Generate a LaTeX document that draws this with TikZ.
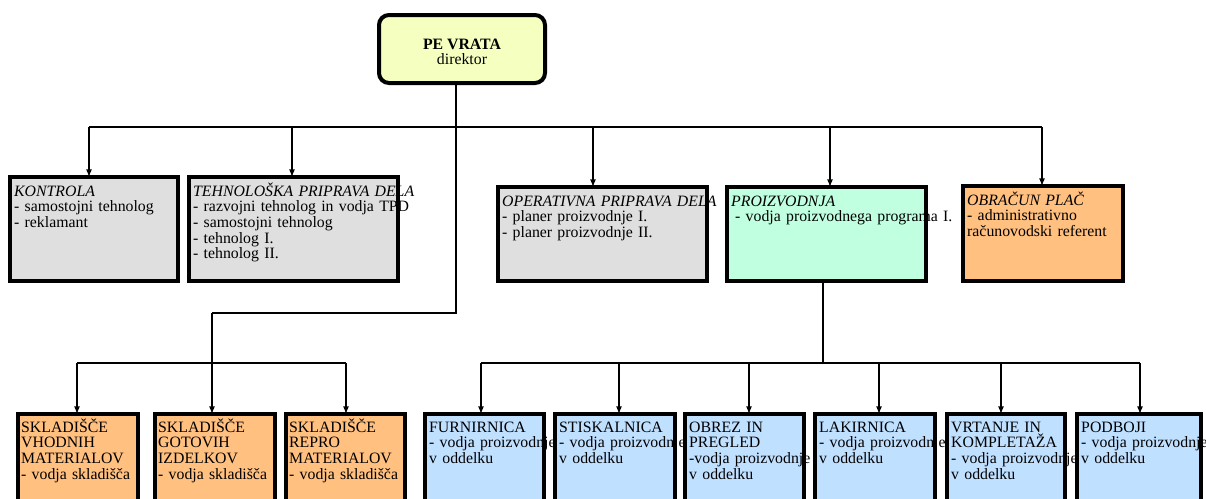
\documentclass[tikz,border=0pt]{standalone}
\usepackage{fontspec}
\setmainfont{Liberation Serif}
\definecolor{headyellow}{RGB}{245,255,192}
\definecolor{staffgray}{RGB}{223,223,223}
\definecolor{prodgreen}{RGB}{192,255,224}
\definecolor{unitorange}{RGB}{255,192,128}
\definecolor{unitblue}{RGB}{192,224,255}
\begin{document}
\begin{tikzpicture}[x=1pt, y=-1pt,
	font=\fontsize{15.8}{15.7}\selectfont,
	unit/.style={rectangle, anchor=north west, inner sep=0pt, outer sep=0pt, minimum height=104},
	staff/.style={unit, fill=staffgray},
	store/.style={unit, fill=unitorange, minimum height=120},
	shop/.style={unit, fill=unitblue, minimum height=120},
	border/.style={draw=black, line width=4pt},
	desc/.style={anchor=base west, text width=300, align=left, inner sep=0pt},
	link/.style={line width=1.6pt},
	arrow/.style={link, -latex}]
		\useasboundingbox (0,0) rectangle (1206,498);
		\clip (0,0) rectangle (1206,498);
		
		%director
		\node (PE Vrata) at (462,49) [rectangle, rounded corners=10, draw, line width=4pt, 
		fill=headyellow, minimum width=166, minimum height=68]{};
		\node (PE Vrata text) at ([yshift=-3pt]PE Vrata.center) [align=center]{\textbf{PE VRATA}\\direktor};
		
		%first level
		\node (Kontrola) at (10,177) [staff, minimum width=168]{};
		\node (Tehnoloska) at (189,177) [staff, minimum width=209]{};
		\node (Operativna) at (498,187) [staff, minimum width=209, minimum height=94]{};
		\node (Proizvodnja) at (727,187) [unit, fill=prodgreen, minimum width=199, minimum height=94]{};
		\node (Obracun) at (963,186) [unit, fill=unitorange, minimum width=160, minimum height=95]{};
		
		\node (Kontrola text) at ([shift={(4,19)}]Kontrola.north west) [desc]{\textit{KONTROLA}\\- samostojni tehnolog\\- reklamant};
		\node (Tehnoloska text) at ([shift={(4,19)}]Tehnoloska.north west) [desc]{\textit{TEHNOLOŠKA PRIPRAVA DELA}\\- razvojni tehnolog in vodja TPD\\- samostojni tehnolog\\- tehnolog I.\\- tehnolog II.};
		\node (Operativna text) at ([shift={(4,19)}]Operativna.north west) [desc]{\textit{OPERATIVNA PRIPRAVA DELA}\\- planer proizvodnje I.\\- planer proizvodnje II.};
		\node (Proizvodnja text) at ([shift={(4,19)}]Proizvodnja.north west) [desc]{\textit{PROIZVODNJA}\\\hspace*{4pt}- vodja proizvodnega programa I.};
		\node (Obracun text) at ([shift={(4,19)}]Obracun.north west) [desc]{\textit{OBRAČUN PLAČ}\\- administrativno\\računovodski referent};
		
		%second level
		\node (Vhodnih) at (18,414) [store, minimum width=120]{};
		\node (Gotovih) at (155,414) [store, minimum width=120]{};
		\node (Repro) at (286,414) [store, minimum width=119]{};
		\node (Furnirnica) at (425,414) [shop, minimum width=119]{};
		\node (Stiskalnica) at (555,414) [shop, minimum width=120]{};
		\node (Obrez) at (685,414) [shop, minimum width=119]{};
		\node (Lakirnica) at (815,414) [shop, minimum width=120]{};
		\node (Vrtanje) at (947,414) [shop, minimum width=118]{};
		\node (Podboji) at (1077,414) [shop, minimum width=124]{};
		
		\node (Vhodnih text) at ([shift={(3,18)}]Vhodnih.north west) [desc]{SKLADIŠČE\\VHODNIH\\MATERIALOV\\- vodja skladišča};
		\node (Gotovih text) at ([shift={(3,18)}]Gotovih.north west) [desc]{SKLADIŠČE\\GOTOVIH\\IZDELKOV\\- vodja skladišča};
		\node (Repro text) at ([shift={(3,18)}]Repro.north west) [desc]{SKLADIŠČE\\REPRO\\MATERIALOV\\- vodja skladišča};
		\node (Furnirnica text) at ([shift={(4,18)}]Furnirnica.north west) [desc]{FURNIRNICA\\- vodja proizvodnje\\v oddelku};
		\node (Stiskalnica text) at ([shift={(4,18)}]Stiskalnica.north west) [desc]{STISKALNICA\\- vodja proizvodnje\\v oddelku};
		\node (Obrez text) at ([shift={(4,18)}]Obrez.north west) [desc]{OBREZ IN\\PREGLED\\-vodja proizvodnje\\v oddelku};
		\node (Lakirnica text) at ([shift={(4,18)}]Lakirnica.north west) [desc]{LAKIRNICA\\- vodja proizvodnje\\v oddelku};
		\node (Vrtanje text) at ([shift={(4,18)}]Vrtanje.north west) [desc]{VRTANJE IN\\KOMPLETAŽA\\- vodja proizvodnje\\v oddelku};
		\node (Podboji text) at ([shift={(4,18)}]Podboji.north west) [desc]{PODBOJI\\- vodja proizvodnje\\v oddelku};
		
		%bus points
		\coordinate (Top Bus West) at (89,127);
		\coordinate (Top Bus 2) at (292,127);
		\coordinate (Top Bus 3) at (593,127);
		\coordinate (Top Bus 4) at (830,127);
		\coordinate (Top Bus East) at (1042,127);
		\coordinate (Main Stem) at (456,313);
		\coordinate (Store Turn) at (212,313);
		\coordinate (Store Bus West) at (77,363);
		\coordinate (Store Bus East) at (346,363);
		\coordinate (Prod Stem) at (823,363);
		\coordinate (Prod Bus West) at (481,363);
		\coordinate (Prod Bus 2) at (619,363);
		\coordinate (Prod Bus 3) at (749,363);
		\coordinate (Prod Bus 4) at (879,363);
		\coordinate (Prod Bus 5) at (1001,363);
		\coordinate (Prod Bus East) at (1140,363);
		
		%links from director
		\draw[link] (Main Stem |- PE Vrata.south) -- (Main Stem) -- (Store Turn);
		\draw[link] (Top Bus West) -- (Top Bus East);
		\draw[arrow] (Top Bus West) -- (Top Bus West |- Kontrola.north);
		\draw[arrow] (Top Bus 2) -- (Top Bus 2 |- Tehnoloska.north);
		\draw[arrow] (Top Bus 3) -- (Top Bus 3 |- Operativna.north);
		\draw[arrow] (Top Bus 4) -- (Top Bus 4 |- Proizvodnja.north);
		\draw[arrow] (Top Bus East) -- (Top Bus East |- Obracun.north);
		
		%links to stores
		\draw[arrow] (Store Turn) -- (Store Turn |- Gotovih.north);
		\draw[link] (Store Bus West) -- (Store Bus East);
		\draw[arrow] (Store Bus West) -- (Store Bus West |- Vhodnih.north);
		\draw[arrow] (Store Bus East) -- (Store Bus East |- Repro.north);
		
		%links to workshops
		\draw[link] (Prod Stem |- Proizvodnja.south) -- (Prod Stem);
		\draw[link] (Prod Bus West) -- (Prod Bus East);
		\draw[arrow] (Prod Bus West) -- (Prod Bus West |- Furnirnica.north);
		\draw[arrow] (Prod Bus 2) -- (Prod Bus 2 |- Stiskalnica.north);
		\draw[arrow] (Prod Bus 3) -- (Prod Bus 3 |- Obrez.north);
		\draw[arrow] (Prod Bus 4) -- (Prod Bus 4 |- Lakirnica.north);
		\draw[arrow] (Prod Bus 5) -- (Prod Bus 5 |- Vrtanje.north);
		\draw[arrow] (Prod Bus East) -- (Prod Bus East |- Podboji.north);
		
		%borders on top
		\foreach \dept in {Kontrola, Tehnoloska, Operativna, Proizvodnja, Obracun, Vhodnih, Gotovih, Repro, 
		Furnirnica, Stiskalnica, Obrez, Lakirnica, Vrtanje, Podboji}
		\draw[border] (\dept.north west) rectangle (\dept.south east);
		
\end{tikzpicture}
\end{document}
